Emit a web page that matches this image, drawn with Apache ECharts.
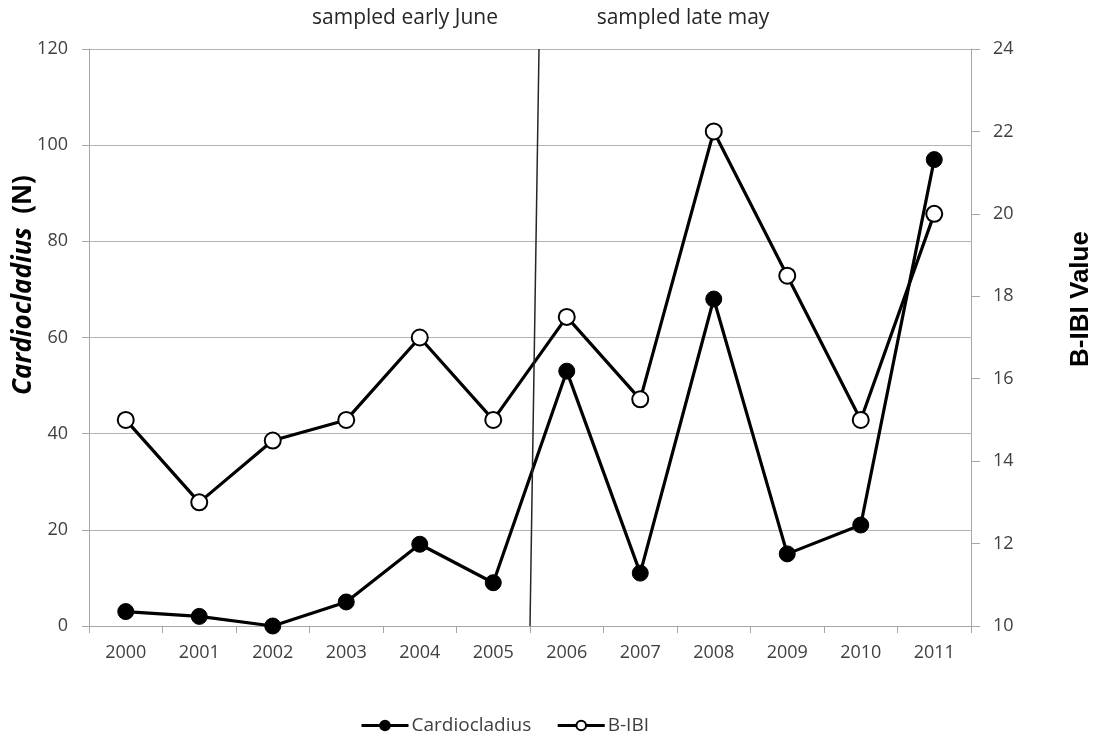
<!DOCTYPE html>
<html>
<head>
<meta charset="utf-8">
<script src="https://cdn.jsdelivr.net/npm/echarts@6/dist/echarts.min.js"></script>
<style>html,body{margin:0;padding:0;background:#fff}#c{width:1099px;height:737px}</style>
</head>
<body>
<div id="c"></div>
<script>
const years = ['2000','2001','2002','2003','2004','2005','2006','2007','2008','2009','2010','2011'];
const cardiocladius = [3, 2, 0, 5, 17, 9, 53, 11, 68, 15, 21, 97];
const bibi = [15, 13, 14.5, 15, 17, 15, 17.5, 15.5, 22, 18.5, 15, 20];
const leftTicks = {min: 0, max: 120, interval: 20};
const rightTicks = {min: 10, max: 24, interval: 2};
const annotations = ['sampled early June', 'sampled late may'];
const leftTitle = ['Cardiocladius', '(N)'];
const rightTitle = 'B-IBI Value';

const FONT = '"Open Sans", "Noto Sans", sans-serif';
const chart = echarts.init(document.getElementById('c'), null, {renderer: 'canvas'});

chart.setOption({
  animation: false,
  backgroundColor: '#ffffff',
  grid: {left: 89, right: 128, top: 49, bottom: 111, outerBoundsMode: 'none', containLabel: false},
  legend: {
    top: 711, left: 355,
    itemWidth: 47, itemHeight: 12, itemGap: 25,
    lineStyle: {width: 3},
    textStyle: {fontFamily: FONT, fontSize: 19, color: '#404040', padding: [0, 0, 0, -2]},
    data: ['Cardiocladius', 'B-IBI']
  },
  xAxis: {
    type: 'category', data: years, boundaryGap: true,
    axisLine: {lineStyle: {color: '#a6a6a6', width: 1}},
    axisTick: {show: true, length: 7, lineStyle: {color: '#a6a6a6'}},
    axisLabel: {fontFamily: FONT, fontSize: 18, color: '#404040', margin: 18},
    splitLine: {show: false}
  },
  yAxis: [{
    type: 'value', min: leftTicks.min, max: leftTicks.max, interval: leftTicks.interval,
    position: 'left',
    axisLine: {show: true, lineStyle: {color: '#a6a6a6'}},
    axisTick: {show: true, length: 7, lineStyle: {color: '#a6a6a6'}},
    axisLabel: {fontFamily: FONT, fontSize: 18, color: '#404040', margin: 21},
    splitLine: {show: true, lineStyle: {color: '#b3b3b3', width: 1}}
  }, {
    type: 'value', min: rightTicks.min, max: rightTicks.max, interval: rightTicks.interval,
    position: 'right',
    axisLine: {show: true, lineStyle: {color: '#a6a6a6'}},
    axisTick: {show: true, length: 9, lineStyle: {color: '#a6a6a6'}},
    axisLabel: {fontFamily: FONT, fontSize: 18, color: '#404040', margin: 22},
    splitLine: {show: false}
  }],
  series: [{
    name: 'Cardiocladius', type: 'line', data: cardiocladius, yAxisIndex: 0,
    symbol: 'circle', symbolSize: 16,
    lineStyle: {color: '#000', width: 3.2},
    itemStyle: {color: '#000', borderColor: '#000', borderWidth: 1},
    z: 3
  }, {
    name: 'B-IBI', type: 'line', data: bibi, yAxisIndex: 1,
    symbol: 'circle', symbolSize: 16,
    lineStyle: {color: '#000', width: 3.2},
    itemStyle: {color: '#fff', borderColor: '#000', borderWidth: 2},
    z: 2
  }]
});

// boundary between 2005 and 2006 (annotation line), labels and axis titles
const p5 = chart.convertToPixel({xAxisIndex: 0}, years[5]);
const p6 = chart.convertToPixel({xAxisIndex: 0}, years[6]);
const bx = (p5 + p6) / 2;
const yTop = chart.convertToPixel({yAxisIndex: 0}, leftTicks.max);
const yBot = chart.convertToPixel({yAxisIndex: 0}, leftTicks.min);
chart.setOption({
  graphic: [{
    type: 'line', z: 10,
    shape: {x1: bx + 9, y1: yTop, x2: bx, y2: yBot},
    style: {stroke: '#262626', lineWidth: 1.5}
  }, {
    type: 'text', z: 10, x: 405, y: 18,
    style: {text: annotations[0], fontFamily: FONT, fontSize: 21, fill: '#262626', align: 'center', verticalAlign: 'middle'}
  }, {
    type: 'text', z: 10, x: 683, y: 18,
    style: {text: annotations[1], fontFamily: FONT, fontSize: 21, fill: '#262626', align: 'center', verticalAlign: 'middle'}
  }, {
    type: 'text', z: 10, x: 24, y: 285, rotation: Math.PI / 2,
    style: {
      text: '{i|' + leftTitle[0] + '}{b|\u00a0\u00a0' + leftTitle[1] + '}',
      align: 'center', verticalAlign: 'middle',
      rich: {
        i: {fontFamily: FONT, fontSize: 26, fontWeight: 'bold', fontStyle: 'italic', fill: '#000'},
        b: {fontFamily: FONT, fontSize: 26, fontWeight: 'bold', fill: '#000'}
      }
    }
  }, {
    type: 'text', z: 10, x: 1081, y: 299, rotation: Math.PI / 2,
    style: {
      text: rightTitle, fontFamily: '"Liberation Sans", Arial, sans-serif', fontSize: 26, fontWeight: 'bold',
      fill: '#000', align: 'center', verticalAlign: 'middle'
    }
  }]
});
</script>
</body>
</html>
